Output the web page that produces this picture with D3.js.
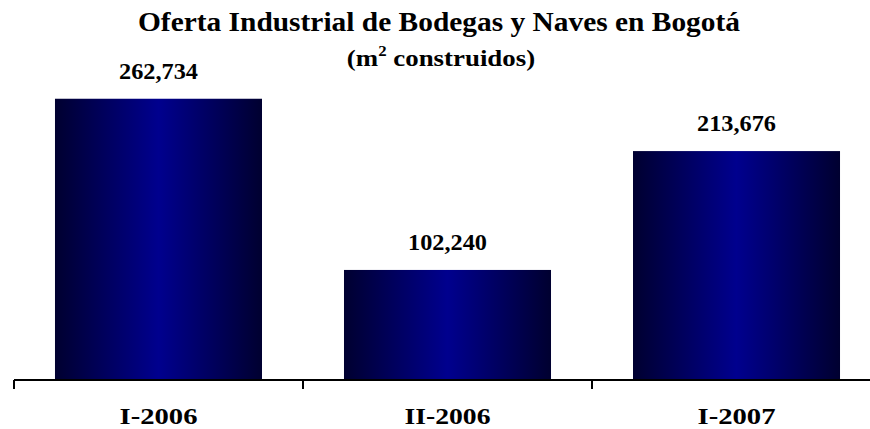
<!DOCTYPE html>
<html><head><meta charset="utf-8">
<script src="https://cdn.jsdelivr.net/npm/d3@7"></script>
<style>html,body{margin:0;padding:0;background:#fff;}svg{display:block;}</style>
</head><body>
<script>
const categories = ["I-2006", "II-2006", "I-2007"];
const values = [262734, 102240, 213676];
const valueLabels = ["262,734", "102,240", "213,676"];
const titleText = "Oferta Industrial de Bodegas y Naves en Bogotá";

const W = 870, H = 429;
const svg = d3.select("body").append("svg").attr("width", W).attr("height", H);
const font = "'Liberation Serif','Times New Roman',serif";

const defs = svg.append("defs");
const grad = defs.append("linearGradient").attr("id", "barGrad")
  .attr("x1", "0%").attr("x2", "100%").attr("y1", "0%").attr("y2", "0%");
grad.append("stop").attr("offset", "0%").attr("stop-color", "#000030");
grad.append("stop").attr("offset", "50%").attr("stop-color", "#00008e");
grad.append("stop").attr("offset", "100%").attr("stop-color", "#000030");

const x = d3.scaleBand().domain(categories).range([14, 881]).paddingInner(0.2837).paddingOuter(0.1418);
const y = d3.scaleLinear().domain([0, 300000]).range([379, 59]);

// bars
svg.selectAll("rect.bar").data(values).join("rect").attr("class", "bar")
  .attr("x", (d, i) => x(categories[i]))
  .attr("width", x.bandwidth())
  .attr("y", d => y(d))
  .attr("height", d => y(0) - y(d))
  .attr("fill", "url(#barGrad)");

// value labels
svg.selectAll("text.val").data(values).join("text").attr("class", "val")
  .attr("x", (d, i) => x(categories[i]) + x.bandwidth() / 2)
  .attr("y", d => y(d) - 20)
  .attr("text-anchor", "middle")
  .attr("font-family", font).attr("font-weight", "bold").attr("font-size", 23)
  .attr("textLength", 79).attr("lengthAdjust", "spacingAndGlyphs")
  .text((d, i) => valueLabels[i]);

// x axis
const axis = d3.axisBottom(x).tickSize(0).tickFormat("");
const gx = svg.append("g").attr("transform", "translate(0,380)").call(axis);
gx.select(".domain").remove();
svg.append("line").attr("x1", 14).attr("x2", W).attr("y1", 380).attr("y2", 380)
  .attr("stroke", "#000").attr("stroke-width", 2);
const bounds = [0, 1, 2, 3].map(i => 14 + i * x.step());
svg.selectAll("line.tick").data(bounds).join("line").attr("class", "tick")
  .attr("x1", d => d).attr("x2", d => d).attr("y1", 380).attr("y2", 389)
  .attr("stroke", "#000").attr("stroke-width", 2);

svg.selectAll("text.cat").data(categories).join("text").attr("class", "cat")
  .attr("x", d => x(d) + x.bandwidth() / 2)
  .attr("y", 424)
  .attr("text-anchor", "middle")
  .attr("font-family", font).attr("font-weight", "bold").attr("font-size", 23)
  .attr("textLength", (d, i) => i === 1 ? 86 : 78).attr("lengthAdjust", "spacingAndGlyphs")
  .text(d => d);

// title
svg.append("text").attr("x", 439).attr("y", 31).attr("text-anchor", "middle")
  .attr("font-family", font).attr("font-weight", "bold").attr("font-size", 27)
  .attr("textLength", 602).attr("lengthAdjust", "spacingAndGlyphs")
  .text(titleText);
const sub = svg.append("g").attr("transform", "translate(441,66) scale(1.12,1)")
  .append("text").attr("x", 0).attr("y", 0).attr("text-anchor", "middle")
  .attr("font-family", font).attr("font-weight", "bold").attr("font-size", 24);
sub.append("tspan").text("(m");
sub.append("tspan").attr("dy", -10).attr("font-size", 15).text("2");
sub.append("tspan").attr("dy", 10).text(" construidos)");
</script>
</body></html>
